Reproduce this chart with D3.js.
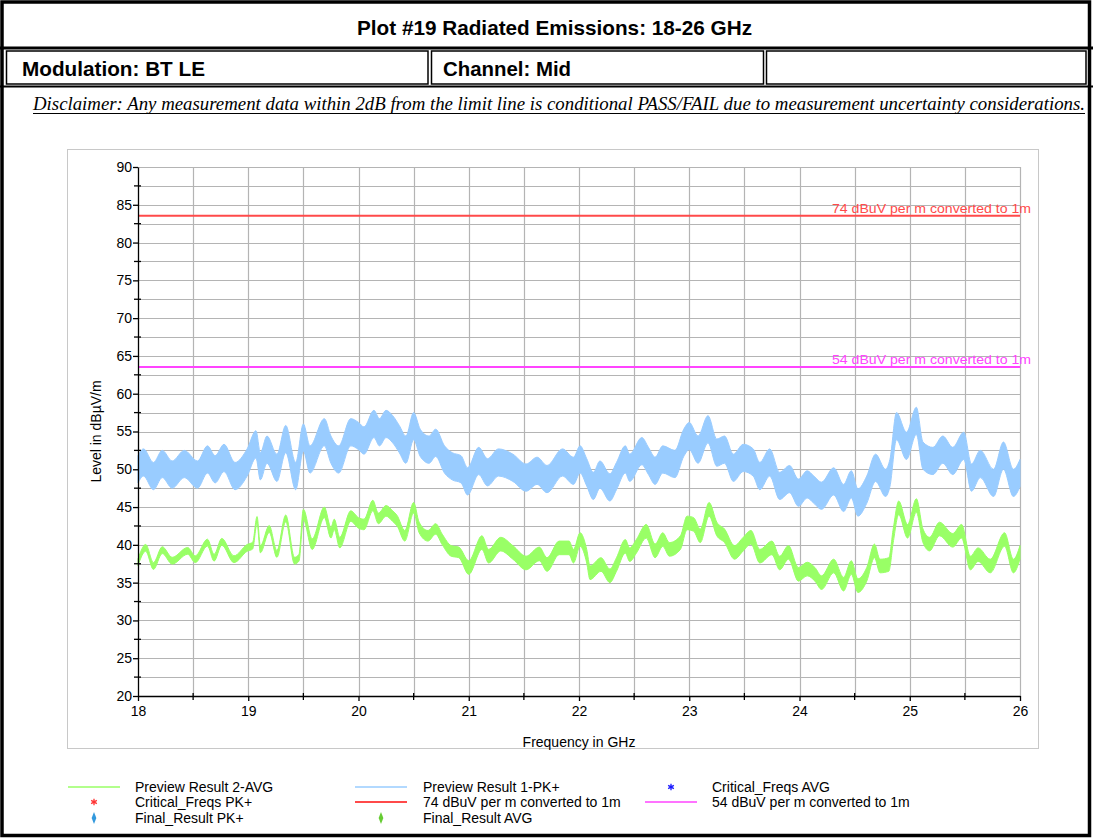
<!DOCTYPE html>
<html>
<head>
<meta charset="utf-8">
<script src="https://cdn.jsdelivr.net/npm/d3@7"></script>
<style>
  body { margin: 0; background: #fff; }
  svg { display: block; font-family: "Liberation Sans", Arial, sans-serif; }
</style>
</head>
<body>
<svg id="chart" width="1093" height="838"></svg>
<script>
// ---- Measurement data (GHz, dBµV/m) ----
const avgFreq = [18.00,18.07,18.14,18.22,18.31,18.45,18.52,18.63,18.69,18.76,18.87,18.99,19.04,19.08,19.11,19.19,19.26,19.34,19.42,19.46,19.50,19.58,19.69,19.75,19.78,19.83,19.93,20.00,20.05,20.13,20.18,20.25,20.31,20.35,20.42,20.50,20.55,20.63,20.70,20.76,20.84,20.91,21.00,21.12,21.18,21.29,21.40,21.52,21.64,21.71,21.82,21.91,21.95,22.01,22.07,22.10,22.20,22.28,22.34,22.42,22.46,22.52,22.61,22.69,22.76,22.82,22.92,22.98,23.04,23.10,23.18,23.25,23.32,23.41,23.49,23.56,23.64,23.75,23.82,23.90,23.99,24.07,24.14,24.20,24.31,24.40,24.47,24.53,24.61,24.68,24.73,24.81,24.85,24.90,24.98,25.06,25.12,25.18,25.27,25.39,25.47,25.55,25.62,25.73,25.86,25.94,26.00];
const avgLevel = [37.7,39.6,37.2,39.3,37.9,39.2,38.1,40.3,38.3,40.4,38.1,39.6,39.9,43.3,39.4,42.1,38.8,43.5,37.9,38.3,44.0,40.1,44.3,41.6,42.7,40.3,43.8,42.9,42.7,45.2,43.5,44.5,43.8,43.2,41.2,44.9,42.3,41.2,42.1,40.7,39.2,39.0,37.0,40.3,38.5,40.1,39.0,37.6,38.8,37.4,39.6,39.6,38.5,40.7,38.5,36.3,37.4,35.9,37.4,39.8,38.7,39.8,41.8,39.2,40.7,39.4,40.3,42.9,42.7,41.2,44.7,42.1,41.2,39.0,40.1,41.0,38.5,39.6,37.6,39.0,36.1,36.8,36.1,35.0,37.2,34.8,37.0,34.6,36.1,39.2,37.2,37.4,41.2,44.9,41.8,45.2,41.2,40.1,42.1,40.6,41.8,37.6,38.7,37.2,40.7,37.2,39.0];

const pkFreq = [18.00,18.05,18.14,18.22,18.31,18.42,18.54,18.63,18.70,18.78,18.88,18.99,19.07,19.11,19.17,19.26,19.34,19.43,19.50,19.56,19.69,19.75,19.82,19.93,20.00,20.05,20.14,20.19,20.25,20.31,20.37,20.43,20.50,20.56,20.64,20.70,20.78,20.85,20.93,20.99,21.09,21.17,21.27,21.40,21.52,21.62,21.71,21.85,21.95,22.01,22.07,22.13,22.19,22.28,22.34,22.42,22.46,22.57,22.63,22.69,22.76,22.87,22.95,23.00,23.08,23.17,23.25,23.32,23.40,23.49,23.58,23.64,23.73,23.82,23.91,23.99,24.07,24.13,24.20,24.31,24.40,24.47,24.53,24.61,24.69,24.78,24.82,24.88,24.97,25.06,25.12,25.21,25.30,25.39,25.49,25.56,25.64,25.76,25.85,25.94,26.00];
const pkLevel = [50.0,50.9,49.1,50.7,49.3,50.7,49.3,51.3,50.0,51.5,49.1,50.9,53.3,50.4,52.6,50.2,54.0,49.1,54.2,51.3,54.9,52.6,51.3,54.9,54.4,53.8,56.0,54.9,56.0,55.3,54.0,52.6,55.7,53.5,52.6,53.5,51.3,50.4,50.0,48.4,51.1,49.6,50.9,50.2,48.9,49.8,48.7,50.9,49.8,51.3,49.6,47.8,49.3,47.6,49.1,51.3,50.2,52.4,51.1,49.8,51.3,50.7,53.5,54.4,52.6,55.3,52.2,52.6,50.2,51.5,50.9,49.1,50.9,47.8,48.7,46.9,48.0,47.3,46.5,48.4,46.2,48.0,45.6,47.3,50.2,48.2,49.5,55.7,53.1,56.4,51.8,51.1,52.6,51.1,53.1,48.9,50.7,48.2,51.8,48.2,49.5];

// Spread of the noisy sweeps (half of the vertical band, dB)
const avgSpreadEdges = [19.5, 21.0];
const avgSpread = [0.45, 0.7, 0.9];
const pkSpread = 1.8;

// Limit lines: 3 m limits converted to 1 m
const limitLevels = [83.54, 63.54];
const limitLabels = ["74 dBuV per m converted to 1m", "54 dBuV per m converted to 1m"];
const limitColors = ["#ff4a4a", "#ff44ff"];

// Axis ticks
const freqTicks = [18, 19, 20, 21, 22, 23, 24, 25, 26];
const levelTicks = [20, 25, 30, 35, 40, 45, 50, 55, 60, 65, 70, 75, 80, 85, 90];

// Header texts
const titleText = "Plot #19 Radiated Emissions: 18-26 GHz";
const modulationText = "Modulation: BT LE";
const channelText = "Channel: Mid";
const disclaimerText = "Disclaimer: Any measurement data within 2dB from the limit line is conditional PASS/FAIL due to measurement uncertainty considerations.";

// Legend entries
const legendLabels = [
  "Preview Result 2-AVG", "Preview Result 1-PK+", "Critical_Freqs AVG",
  "Critical_Freqs PK+", "74 dBuV per m converted to 1m", "54 dBuV per m converted to 1m",
  "Final_Result PK+", "Final_Result AVG"
];
const legendKinds = ["line", "line", "asterisk", "asterisk", "line", "line", "diamond", "diamond"];
const legendColors = ["#99ff66", "#99ccff", "#1a1aff", "#ff3333", "#ff4a4a", "#ff44ff", "#3399dd", "#66cc33"];

// ---- Drawing ----
const svg = d3.select("#chart");
const narrow = "'Liberation Sans Narrow', 'Arial Narrow', 'Liberation Sans', Arial, sans-serif";

// Header table
const hdr = svg.append("g");
hdr.append("rect").attr("x", 2).attr("y", 2).attr("width", 1087.5).attr("height", 833.5)
  .attr("fill", "none").attr("stroke", "#000").attr("stroke-width", 3.5);
hdr.append("line").attr("x1", 0).attr("x2", 1093).attr("y1", 48).attr("y2", 48)
  .attr("stroke", "#000").attr("stroke-width", 3);
[[6.5, 428], [431.5, 763.5], [766.5, 1086]].forEach(([a, b]) => {
  hdr.append("rect").attr("x", a).attr("y", 51).attr("width", b - a).attr("height", 33)
    .attr("fill", "none").attr("stroke", "#000").attr("stroke-width", 1.5);
});
hdr.append("line").attr("x1", 0).attr("x2", 1093).attr("y1", 86.5).attr("y2", 86.5)
  .attr("stroke", "#000").attr("stroke-width", 2);

const headText = (str, x0, y0, w) => hdr.append("text").attr("x", x0).attr("y", y0)
  .attr("font-family", narrow).attr("font-weight", "bold").attr("font-size", 21)
  .attr("textLength", w).attr("lengthAdjust", "spacingAndGlyphs").text(str);
headText(titleText, 357, 35, 395);
headText(modulationText, 22, 76, 183);
headText(channelText, 443, 76, 128);

hdr.append("text").attr("x", 33).attr("y", 110)
  .attr("font-family", "'Liberation Serif', 'Times New Roman', serif")
  .attr("font-style", "italic").attr("font-size", 18.5)
  .attr("textLength", 1052).attr("lengthAdjust", "spacingAndGlyphs").text(disclaimerText);
hdr.append("line").attr("x1", 33).attr("x2", 1085).attr("y1", 113.5).attr("y2", 113.5)
  .attr("stroke", "#000").attr("stroke-width", 1.2);

// Plot frame
svg.append("rect").attr("x", 67.5).attr("y", 149.5).attr("width", 971).attr("height", 599)
  .attr("fill", "#fff").attr("stroke", "#c8c8c8").attr("stroke-width", 1);

const x = d3.scaleLinear().domain([18, 26]).range([138, 1020]);
const y = d3.scaleLinear().domain([20, 90]).range([696, 167]);

// Grid
const grid = svg.append("g").attr("stroke", "#b4b4b4").attr("stroke-width", 1.2);
grid.selectAll("line.v").data(d3.range(18.5, 26.01, 0.5)).join("line")
  .attr("x1", d => Math.round(x(d)) + 0.5).attr("x2", d => Math.round(x(d)) + 0.5)
  .attr("y1", y(90)).attr("y2", y(20));
grid.selectAll("line.h").data(d3.range(22.5, 90.01, 2.5)).join("line")
  .attr("x1", x(18)).attr("x2", x(26))
  .attr("y1", d => Math.round(y(d)) + 0.5).attr("y2", d => Math.round(y(d)) + 0.5);

// Sweeps as noise bands
const avgHalf = d3.scaleThreshold().domain(avgSpreadEdges).range(avgSpread);
const avgData = avgFreq.map((f, i) => ({ f, v: avgLevel[i], h: avgHalf(f) }));
const pkData = pkFreq.map((f, i) => ({ f, v: pkLevel[i], h: pkSpread }));
const band = d3.area().curve(d3.curveMonotoneX)
  .x(d => x(d.f)).y0(d => y(d.v - d.h)).y1(d => y(d.v + d.h));

svg.append("path").datum(pkData).attr("d", band)
  .attr("fill", "#99ccff").attr("stroke", "#99ccff").attr("stroke-width", 1);
svg.append("path").datum(avgData).attr("d", band)
  .attr("fill", "#99ff66").attr("stroke", "#99ff66").attr("stroke-width", 1);

// Limit lines with labels
limitLevels.forEach((lv, i) => {
  svg.append("line").attr("x1", x(18)).attr("x2", x(26)).attr("y1", y(lv)).attr("y2", y(lv))
    .attr("stroke", limitColors[i]).attr("stroke-width", 2);
  svg.append("text").attr("x", 1031).attr("y", y(lv) - 3).attr("text-anchor", "end")
    .attr("font-size", 13).attr("fill", limitColors[i])
    .attr("textLength", 199).attr("lengthAdjust", "spacingAndGlyphs").text(limitLabels[i]);
});

// Axes
const yAxis = svg.append("g").attr("transform", `translate(${x(18)},0)`)
  .call(d3.axisLeft(y).tickValues(levelTicks).tickSize(5).tickSizeOuter(0).tickPadding(1));
const xAxis = svg.append("g").attr("transform", `translate(0,${y(20)})`)
  .call(d3.axisBottom(x).tickValues(freqTicks).tickSize(5).tickSizeOuter(0).tickPadding(5));
[yAxis, xAxis].forEach(g => {
  g.selectAll("text").attr("font-size", 14).attr("font-family", "'Liberation Sans', Arial, sans-serif").attr("fill", "#000");
  g.select(".domain").attr("stroke", "#000").attr("stroke-width", 1.3);
  g.selectAll(".tick line").attr("stroke", "#000").attr("stroke-width", 1.3);
});
// Minor ticks across the axis lines
svg.append("g").attr("stroke", "#000").attr("stroke-width", 1.3)
  .selectAll("line").data(d3.range(22.5, 90, 5)).join("line")
  .attr("x1", x(18) - 4).attr("x2", x(18) + 3).attr("y1", d => y(d)).attr("y2", d => y(d));
svg.append("g").attr("stroke", "#000").attr("stroke-width", 1.3)
  .selectAll("line").data(d3.range(18.5, 26, 1)).join("line")
  .attr("x1", d => x(d)).attr("x2", d => x(d)).attr("y1", y(20) - 3).attr("y2", y(20) + 4);

// Axis titles
svg.append("text").attr("transform", `translate(101,${(y(20) + y(90)) / 2}) rotate(-90)`)
  .attr("text-anchor", "middle").attr("font-size", 14).text("Level in dBµV/m");
svg.append("text").attr("x", (x(18) + x(26)) / 2).attr("y", 747)
  .attr("text-anchor", "middle").attr("font-size", 14).text("Frequency in GHz");

// Legend
const colX = [68, 355, 645];
const textX = [135, 423, 712];
const rowY = [787, 802, 818];
const legend = svg.append("g");
legendLabels.forEach((lab, i) => {
  const c = i % 3, r = Math.floor(i / 3);
  const cx = colX[c] + 26, cy = rowY[r];
  if (legendKinds[i] === "line") {
    legend.append("line").attr("x1", colX[c]).attr("x2", colX[c] + 52).attr("y1", cy).attr("y2", cy)
      .attr("stroke", legendColors[i]).attr("stroke-width", legendColors[i] === "#ff4a4a" ? 2 : 1.5);
  } else if (legendKinds[i] === "asterisk") {
    legend.append("path").attr("transform", `translate(${cx},${cy})`)
      .attr("d", d3.symbol(d3.symbolAsterisk, 30)())
      .attr("fill", "none").attr("stroke", legendColors[i]).attr("stroke-width", 1.3);
  } else {
    legend.append("path").attr("transform", `translate(${cx},${cy}) scale(0.8,1.2)`)
      .attr("d", d3.symbol(d3.symbolDiamond, 30)())
      .attr("fill", legendColors[i]);
  }
  legend.append("text").attr("x", textX[c]).attr("y", cy + 5).attr("font-size", 14).text(lab);
});
</script>
</body>
</html>
